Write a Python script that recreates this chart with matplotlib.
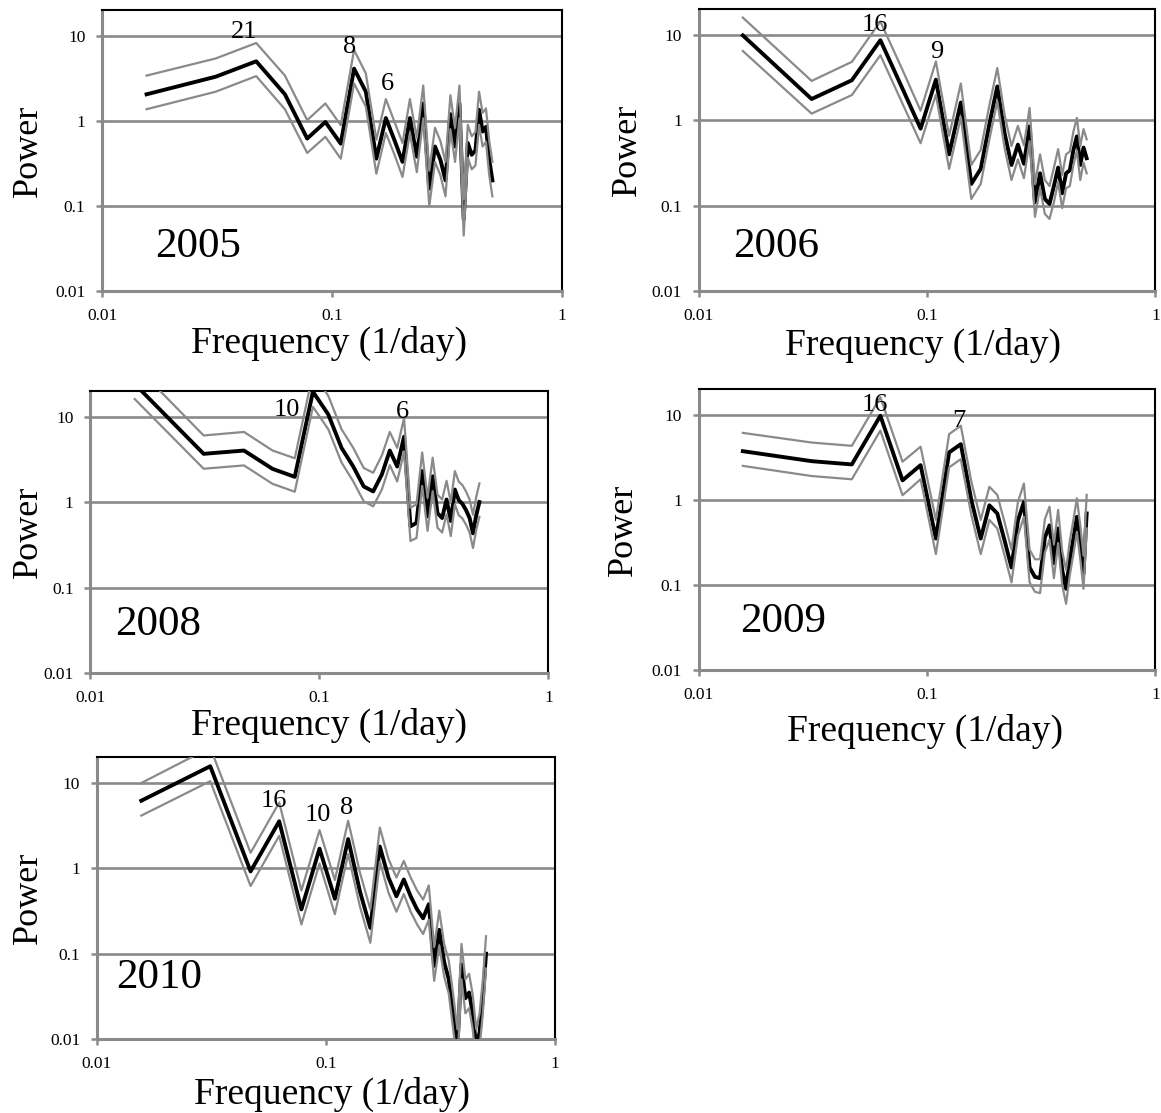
import matplotlib
matplotlib.use("Agg")
import matplotlib.pyplot as plt
from matplotlib.ticker import FixedLocator, NullLocator

plt.rcParams['font.family'] = ['Liberation Serif', 'DejaVu Serif']

# frequencies of the periodogram (1/day)
freq = [0.015625, 0.03125, 0.046875, 0.0625, 0.078125, 0.09375, 0.109375, 0.125,
        0.140625, 0.15625, 0.171875, 0.1875, 0.203125, 0.21875, 0.234375, 0.25,
        0.265625, 0.28125, 0.296875, 0.3125, 0.328125, 0.34375, 0.359375, 0.375,
        0.390625, 0.40625, 0.421875, 0.4375, 0.453125, 0.46875, 0.484375, 0.5]

power_2005 = [2.05, 3.3, 5.0, 2.05, 0.62, 0.97, 0.54, 4.1, 2.2, 0.36, 1.08, 0.59,
              0.33, 1.08, 0.38, 1.6, 0.16, 0.5, 0.35, 0.2, 1.2, 0.5, 1.6, 0.07,
              0.55, 0.4, 0.45, 1.35, 0.75, 0.85, 0.35, 0.2]
upper_2005 = [3.4, 5.4, 8.2, 3.4, 1.02, 1.6, 0.89, 6.8, 3.6, 0.6, 1.8, 0.97,
              0.55, 1.8, 0.63, 2.6, 0.26, 0.83, 0.58, 0.33, 2.0, 0.83, 2.6, 0.12,
              0.9, 0.66, 0.74, 2.2, 1.24, 1.4, 0.58, 0.33]
lower_2005 = [1.37, 2.2, 3.35, 1.37, 0.42, 0.65, 0.36, 2.75, 1.47, 0.24, 0.72, 0.4,
              0.22, 0.72, 0.25, 1.07, 0.1, 0.33, 0.23, 0.13, 0.8, 0.33, 1.07, 0.045,
              0.37, 0.27, 0.3, 0.9, 0.5, 0.57, 0.23, 0.13]

power_2006 = [9.9, 1.78, 2.95, 8.7, 2.35, 0.8, 3.0, 0.4, 1.62, 0.18, 0.27, 0.9,
              2.5, 0.7, 0.3, 0.52, 0.31, 0.85, 0.11, 0.24, 0.12, 0.105, 0.17, 0.28,
              0.14, 0.24, 0.26, 0.45, 0.65, 0.3, 0.48, 0.36]
upper_2006 = [16, 2.9, 4.85, 14.4, 3.9, 1.3, 4.9, 0.66, 2.7, 0.3, 0.45, 1.5,
              4.1, 1.15, 0.5, 0.86, 0.51, 1.4, 0.18, 0.4, 0.2, 0.17, 0.28, 0.46,
              0.23, 0.4, 0.43, 0.74, 1.07, 0.5, 0.79, 0.6]
lower_2006 = [6.5, 1.2, 1.98, 5.8, 1.57, 0.54, 2.0, 0.27, 1.09, 0.12, 0.18, 0.6,
              1.67, 0.47, 0.2, 0.35, 0.21, 0.57, 0.074, 0.16, 0.08, 0.07, 0.11, 0.19,
              0.094, 0.16, 0.17, 0.3, 0.44, 0.2, 0.32, 0.24]

power_2008 = [24, 3.66, 4.0, 2.44, 1.97, 19.5, 10.6, 4.3, 2.6, 1.52, 1.33, 2.1,
              4.0, 2.6, 5.8, 0.52, 0.57, 2.3, 0.68, 2.0, 0.74, 0.65, 1.07, 0.6,
              1.4, 1.05, 0.95, 0.8, 0.65, 0.43, 0.7, 1.0]
upper_2008 = [40, 6.0, 6.6, 4.0, 3.25, 32, 17.5, 7.1, 4.3, 2.5, 2.2, 3.5,
              6.6, 4.3, 9.6, 0.86, 0.94, 3.8, 1.12, 3.3, 1.22, 1.07, 1.77, 0.99,
              2.3, 1.73, 1.57, 1.32, 1.07, 0.71, 1.15, 1.65]
lower_2008 = [16, 2.45, 2.68, 1.63, 1.32, 13, 7.1, 2.9, 1.74, 1.02, 0.89, 1.4,
              2.7, 1.74, 3.9, 0.35, 0.38, 1.54, 0.46, 1.34, 0.5, 0.44, 0.72, 0.4,
              0.94, 0.7, 0.64, 0.54, 0.44, 0.29, 0.47, 0.67]

power_2009 = [3.72, 2.84, 2.6, 9.7, 1.69, 2.55, 0.35, 3.6, 4.5, 1.0, 0.35, 0.86,
              0.69, 0.33, 0.16, 0.57, 0.94, 0.16, 0.124, 0.12, 0.36, 0.5, 0.18, 0.46,
              0.15, 0.09, 0.2, 0.35, 0.63, 0.3, 0.135, 0.69]
upper_2009 = [6.1, 4.7, 4.3, 16, 2.8, 4.2, 0.58, 5.9, 7.4, 1.65, 0.58, 1.42,
              1.14, 0.54, 0.26, 0.94, 1.55, 0.26, 0.2, 0.2, 0.59, 0.83, 0.3, 0.76,
              0.25, 0.15, 0.33, 0.58, 1.04, 0.5, 0.22, 1.14]
lower_2009 = [2.5, 1.9, 1.74, 6.5, 1.13, 1.74, 0.23, 2.4, 3.0, 0.67, 0.23, 0.58,
              0.46, 0.22, 0.107, 0.38, 0.63, 0.107, 0.083, 0.08, 0.24, 0.34, 0.12, 0.31,
              0.1, 0.06, 0.13, 0.23, 0.42, 0.2, 0.09, 0.46]

power_2010 = [6.2, 15.7, 0.92, 3.56, 0.33, 1.7, 0.44, 2.2, 0.54, 0.2, 1.8, 0.78,
              0.47, 0.74, 0.47, 0.33, 0.26, 0.38, 0.072, 0.19, 0.08, 0.05, 0.02, 0.008,
              0.075, 0.03, 0.035, 0.02, 0.008, 0.012, 0.03, 0.1]
upper_2010 = [10, 26, 1.52, 5.9, 0.55, 2.8, 0.73, 3.6, 0.9, 0.33, 3.0, 1.29,
              0.78, 1.22, 0.78, 0.55, 0.43, 0.63, 0.12, 0.32, 0.13, 0.083, 0.033, 0.013,
              0.13, 0.05, 0.058, 0.033, 0.013, 0.02, 0.05, 0.16]
lower_2010 = [4.15, 10.5, 0.62, 2.4, 0.22, 1.14, 0.29, 1.47, 0.36, 0.134, 1.2, 0.52,
              0.31, 0.5, 0.31, 0.22, 0.17, 0.25, 0.048, 0.125, 0.054, 0.034, 0.013, 0.005,
              0.05, 0.02, 0.023, 0.013, 0.005, 0.008, 0.02, 0.067]

# peak labels (period in days): text, frequency, power
peaks_2005 = [("21", 0.0416, 9.5), ("8", 0.120, 6.3), ("6", 0.174, 2.33)]
peaks_2006 = [("16", 0.0591, 11.1), ("9", 0.1107, 5.4)]
peaks_2008 = [("10", 0.0723, 10.1), ("6", 0.2297, 9.7)]
peaks_2009 = [("16", 0.0591, 10.9), ("7", 0.1385, 7.1)]
peaks_2010 = [("16", 0.0594, 5.3), ("10", 0.0921, 3.55), ("8", 0.1227, 4.37)]

x_ticks = [0.01, 0.1, 1]
x_ticklabels = ["0.01", "0.1", "1"]
y_ticks = [0.01, 0.1, 1, 10]
y_ticklabels = ["0.01", "0.1", "1", "10"]

GRAY = '#8a8a8a'

panels = [
    # year, power, upper, lower, peaks, axes rect, year pos, ylabel x, xlabel pos
    ("2005", power_2005, upper_2005, lower_2005, peaks_2005,
     [0.0879, 0.7383, 0.3958, 0.2527], (0.115, 0.122), -0.124, (0.494, -0.123)),
    ("2006", power_2006, upper_2006, lower_2006, peaks_2006,
     [0.6017, 0.7385, 0.3935, 0.2531], (0.075, 0.122), -0.120, (0.492, -0.131)),
    ("2008", power_2008, upper_2008, lower_2008, peaks_2008,
     [0.0778, 0.3953, 0.3945, 0.2536], (0.054, 0.134), -0.099, (0.521, -0.124)),
    ("2009", power_2009, upper_2009, lower_2009, peaks_2009,
     [0.6017, 0.3980, 0.3935, 0.2525], (0.090, 0.135), -0.128, (0.495, -0.157)),
    ("2010", power_2010, upper_2010, lower_2010, peaks_2010,
     [0.0835, 0.0665, 0.3945, 0.2531], (0.041, 0.180), -0.113, (0.513, -0.136)),
]

fig = plt.figure(figsize=(11.61, 11.13), dpi=100)

for year, pw, up, lo, peaks, rect, ypos, ylab_x, xlab_pos in panels:
    ax = fig.add_axes(rect)
    ax.set_xscale('log')
    ax.set_yscale('log')
    ax.set_xlim(0.01, 1)
    ax.set_ylim(0.01, 20)

    for yv in [0.1, 1, 10]:
        ax.axhline(yv, color=GRAY, linewidth=1.9, zorder=1)

    ax.plot(freq, pw, color='black', linewidth=2.8, zorder=3)
    ax.plot(freq, lo, color=GRAY, linewidth=1.6, zorder=4)
    ax.plot(freq, up, color=GRAY, linewidth=1.6, zorder=4)

    ax.xaxis.set_major_locator(FixedLocator(x_ticks))
    ax.yaxis.set_major_locator(FixedLocator(y_ticks))
    ax.xaxis.set_minor_locator(NullLocator())
    ax.yaxis.set_minor_locator(NullLocator())
    ax.set_xticklabels(x_ticklabels)
    ax.set_yticklabels(y_ticklabels)
    ax.tick_params(axis='both', which='major', direction='out', length=4,
                   width=1.8, color=GRAY, labelsize=12.5, pad=8)

    for side in ['left', 'bottom']:
        ax.spines[side].set_color(GRAY)
        ax.spines[side].set_linewidth(2.2)
    for side in ['top', 'right']:
        ax.spines[side].set_color('black')
        ax.spines[side].set_linewidth(1.5)

    ax.set_ylabel("Power", fontsize=26)
    ax.yaxis.set_label_coords(ylab_x, 0.5)
    ax.set_xlabel("Frequency (1/day)", fontsize=27)
    ax.xaxis.set_label_coords(*xlab_pos)

    ax.text(ypos[0], ypos[1], year, transform=ax.transAxes, fontsize=31,
            ha='left', va='baseline')
    for label, f, p in peaks:
        ax.text(f, p, label, fontsize=19, ha='center', va='baseline', zorder=5)

fig.savefig("out.png", dpi=100)
